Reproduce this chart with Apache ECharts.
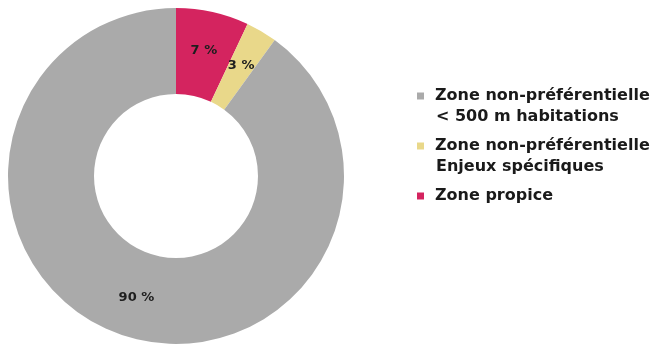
<!DOCTYPE html>
<html><head><meta charset="utf-8">
<script src="https://cdn.jsdelivr.net/npm/echarts@6/dist/echarts.min.js"></script>
<style>html,body{margin:0;padding:0;background:#fff}#c{width:651px;height:345px}</style>
</head><body><div id="c"></div>
<script>
const categories = ["Zone propice", "Zone non-préférentielle\nEnjeux spécifiques", "Zone non-préférentielle\n< 500 m habitations"];
const values = [7, 3, 90];
const colors = ["#d4245f", "#e9d88a", "#aaaaaa"];
const legendOrder = [categories[2], categories[1], categories[0]];

const rich = { t: { fontFamily: 'DejaVu Sans', fontWeight: 'bold', fontSize: 16, color: '#1a1a1a', lineHeight: 21 },
               sp: { width: 19, height: 8 } };
categories.forEach((c, i) => { rich['sq' + i] = { width: 7, height: 7, backgroundColor: colors[i], padding: 0 }; rich['g' + i] = { width: 11 }; });

const chart = echarts.init(document.getElementById('c'));
chart.setOption({
  animation: false,
  legend: {
    orient: 'vertical',
    left: 412, top: 88,
    padding: 0,
    itemWidth: 0, itemHeight: 0, itemGap: 13,
    icon: 'none',
    data: legendOrder,
    formatter: function (name) {
      const i = categories.indexOf(name);
      const lines = name.split('\n');
      return lines.map((l, k) => (k === 0 ? '{sq' + i + '|}{g' + i + '|}' : '{sp|}') + '{t|' + l + '}').join('\n');
    },
    textStyle: { rich: rich, padding: 0 }
  },
  series: [{
    type: 'pie',
    center: [176, 176],
    radius: [82, 168],
    startAngle: 90,
    clockwise: true,
    label: {
      position: 'inside',
      formatter: '{c} %',
      fontFamily: 'DejaVu Sans', fontWeight: 'bold', fontSize: 13, color: '#1e1e1e'
    },
    labelLine: { show: false },
    data: categories.map((n, i) => ({ name: n, value: values[i], itemStyle: { color: colors[i] } }))
  }]
});
</script></body></html>
